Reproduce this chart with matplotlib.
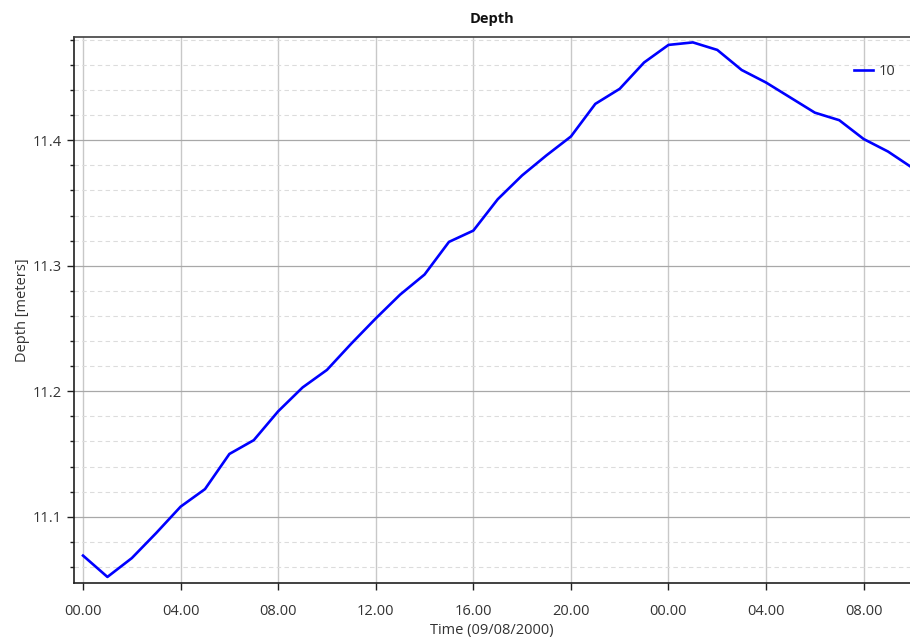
import matplotlib
matplotlib.use("Agg")
import matplotlib.pyplot as plt
from matplotlib.ticker import MultipleLocator, FixedLocator, FixedFormatter

hours = list(range(35))
depth = [11.069, 11.052, 11.067, 11.087, 11.108, 11.122, 11.150, 11.161, 11.184, 11.203,
         11.217, 11.238, 11.258, 11.277, 11.293, 11.319, 11.328, 11.353, 11.372, 11.388,
         11.403, 11.429, 11.441, 11.462, 11.476, 11.478, 11.472, 11.456, 11.446, 11.434,
         11.422, 11.416, 11.401, 11.391, 11.378]
series_name = "10"
tick_hours = [0, 4, 8, 12, 16, 20, 24, 28, 32]
tick_labels = ["00.00", "04.00", "08.00", "12.00", "16.00", "20.00", "00.00", "04.00", "08.00"]
y_ticks = [11.1, 11.2, 11.3, 11.4]

plt.rcParams['font.family'] = ['Open Sans', 'DejaVu Sans']

fig = plt.figure(figsize=(9.10, 6.41), dpi=100)
ax = fig.add_axes([74/910, (641-582.7)/641, 1 - 74/910, (582.7-37)/641])

ax.plot(hours, depth, color='#0000ff', lw=1.9, label=series_name, zorder=3)

ax.set_xlim(-0.37, 33.9)
ax.set_ylim(11.0474, 11.4823)

ax.xaxis.set_major_locator(FixedLocator(tick_hours))
ax.xaxis.set_major_formatter(FixedFormatter(tick_labels))
ax.yaxis.set_major_locator(FixedLocator(y_ticks))
ax.yaxis.set_minor_locator(MultipleLocator(0.02))
ax.set_yticklabels([f"{v:.1f}" for v in y_ticks])

ax.grid(which='major', axis='x', color='#c8c8c8', lw=1.0, zorder=0)
ax.grid(which='major', axis='y', color='#a8a8a8', lw=0.9, zorder=0)
ax.grid(which='minor', axis='y', color='#dcdcdc', lw=0.8, ls=(0, (4, 3)), zorder=0)

ax.tick_params(axis='both', which='major', direction='out', length=5, width=1,
               color='#202020', labelsize=10.5, labelcolor='#333333')
ax.tick_params(axis='y', which='minor', direction='out', length=3, width=1, color='#202020')
ax.tick_params(axis='x', pad=10)

for s in ['left', 'bottom']:
    ax.spines[s].set_color('#202020')
    ax.spines[s].set_linewidth(1.2)
ax.spines['top'].set_color('#404040')
ax.spines['top'].set_linewidth(1.2)
ax.spines['right'].set_visible(False)

ax.set_title("Depth", fontsize=10.5, fontweight='bold', color='#111111', pad=10)
ax.set_xlabel("Time (09/08/2000)", fontsize=10.5, color='#333333', labelpad=3)
ax.set_ylabel("Depth [meters]", fontsize=10.5, color='#333333', labelpad=2)

leg = ax.legend(loc='upper right', frameon=False, fontsize=10.5, handlelength=1.3,
                handletextpad=0.4, bbox_to_anchor=(0.998, 0.975), labelcolor='#333333')

fig.savefig("out.png", dpi=100)
